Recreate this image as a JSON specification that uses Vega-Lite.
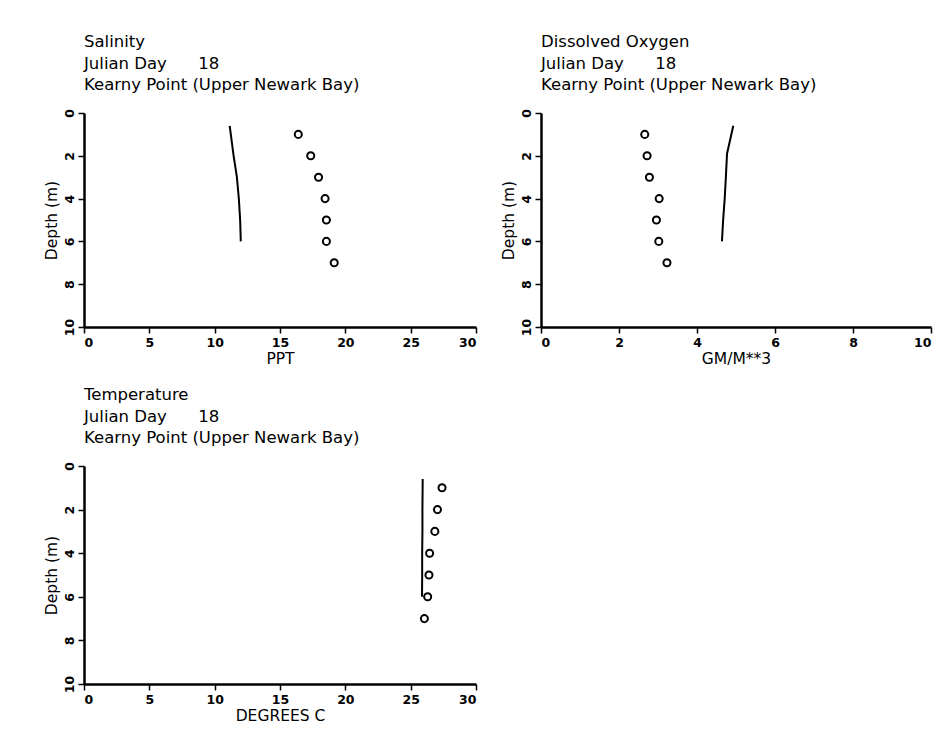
{
  "$schema": "https://vega.github.io/schema/vega-lite/v6.json",
  "background": "white",
  "padding": {"left": 44, "top": 34, "right": 5, "bottom": 5},
  "config": {
    "font": "DejaVu Sans",
    "view": {"stroke": null},
    "axis": {
      "domainColor": "black", "domainWidth": 2.5,
      "tickColor": "black", "tickWidth": 1.5, "tickSize": 6,
      "labelColor": "black", "labelFontSize": 12.5, "labelFontWeight": "bold", "labelPadding": 2,
      "titleColor": "black", "titleFontSize": 15.5, "titleFontWeight": "normal",
      "grid": false
    },
    "axisX": {"labelPadding": 3},
    "title": {"anchor": "start", "frame": "group", "fontSize": 16.5, "fontWeight": "normal", "lineHeight": 21.5, "color": "black", "offset": 15}
  },
  "datasets": {
    "salinity": [
      {"series": "observed", "depth": 1, "value": 16.4},
      {"series": "observed", "depth": 2, "value": 17.35},
      {"series": "observed", "depth": 3, "value": 17.95},
      {"series": "observed", "depth": 4, "value": 18.45},
      {"series": "observed", "depth": 5, "value": 18.55},
      {"series": "observed", "depth": 6, "value": 18.55},
      {"series": "observed", "depth": 7, "value": 19.15},
      {"series": "model", "depth": 0.6, "value": 11.15},
      {"series": "model", "depth": 2, "value": 11.45},
      {"series": "model", "depth": 3, "value": 11.7},
      {"series": "model", "depth": 4, "value": 11.85},
      {"series": "model", "depth": 5, "value": 11.95},
      {"series": "model", "depth": 6, "value": 12.0}
    ],
    "oxygen": [
      {"series": "observed", "depth": 1, "value": 2.66},
      {"series": "observed", "depth": 2, "value": 2.72},
      {"series": "observed", "depth": 3, "value": 2.78},
      {"series": "observed", "depth": 4, "value": 3.03},
      {"series": "observed", "depth": 5, "value": 2.96},
      {"series": "observed", "depth": 6, "value": 3.02},
      {"series": "observed", "depth": 7, "value": 3.23},
      {"series": "model", "depth": 0.6, "value": 4.93},
      {"series": "model", "depth": 1.9, "value": 4.77},
      {"series": "model", "depth": 3, "value": 4.74},
      {"series": "model", "depth": 4, "value": 4.71},
      {"series": "model", "depth": 5, "value": 4.67},
      {"series": "model", "depth": 6, "value": 4.64}
    ],
    "temperature": [
      {"series": "observed", "depth": 1, "value": 27.4},
      {"series": "observed", "depth": 2, "value": 27.05},
      {"series": "observed", "depth": 3, "value": 26.85},
      {"series": "observed", "depth": 4, "value": 26.45},
      {"series": "observed", "depth": 5, "value": 26.4},
      {"series": "observed", "depth": 6, "value": 26.3},
      {"series": "observed", "depth": 7, "value": 26.05},
      {"series": "model", "depth": 0.6, "value": 25.92},
      {"series": "model", "depth": 2, "value": 25.9},
      {"series": "model", "depth": 3, "value": 25.9},
      {"series": "model", "depth": 4, "value": 25.88},
      {"series": "model", "depth": 5, "value": 25.88},
      {"series": "model", "depth": 6, "value": 25.87}
    ]
  },
  "columns": 2,
  "spacing": {"column": 24, "row": 20},
  "concat": [
    {
      "width": 392, "height": 214,
      "title": {"text": ["Salinity", "Julian Day\u00a0\u00a0\u00a0\u00a0\u00a0\u00a018", "Kearny Point (Upper Newark Bay)"]},
      "data": {"name": "salinity"},
      "encoding": {
        "x": {"field": "value", "type": "quantitative", "scale": {"domain": [0, 30], "nice": false, "zero": false}, "axis": {"title": "PPT", "values": [0, 5, 10, 15, 20, 25, 30], "labelAngle": 0, "titlePadding": 3}},
        "y": {"field": "depth", "type": "quantitative", "scale": {"domain": [0, 10], "reverse": true, "nice": false}, "axis": {"title": "Depth (m)", "values": [0, 2, 4, 6, 8, 10], "labelAngle": -90, "titlePadding": 4}}
      },
      "layer": [
        {"transform": [{"filter": "datum.series === 'observed'"}], "mark": {"type": "point", "shape": "circle", "filled": false, "color": "black", "size": 50, "strokeWidth": 2, "opacity": 1}},
        {"transform": [{"filter": "datum.series === 'model'"}], "mark": {"type": "line", "color": "black", "strokeWidth": 2}, "encoding": {"order": {"field": "depth", "type": "quantitative"}}}
      ]
    },
    {
      "width": 390, "height": 214,
      "title": {"text": ["Dissolved Oxygen", "Julian Day\u00a0\u00a0\u00a0\u00a0\u00a0\u00a018", "Kearny Point (Upper Newark Bay)"]},
      "data": {"name": "oxygen"},
      "encoding": {
        "x": {"field": "value", "type": "quantitative", "scale": {"domain": [0, 10], "nice": false, "zero": false}, "axis": {"title": "GM/M**3", "values": [0, 2, 4, 6, 8, 10], "labelAngle": 0, "titlePadding": 3}},
        "y": {"field": "depth", "type": "quantitative", "scale": {"domain": [0, 10], "reverse": true, "nice": false}, "axis": {"title": "Depth (m)", "values": [0, 2, 4, 6, 8, 10], "labelAngle": -90, "titlePadding": 4}}
      },
      "layer": [
        {"transform": [{"filter": "datum.series === 'observed'"}], "mark": {"type": "point", "shape": "circle", "filled": false, "color": "black", "size": 50, "strokeWidth": 2, "opacity": 1}},
        {"transform": [{"filter": "datum.series === 'model'"}], "mark": {"type": "line", "color": "black", "strokeWidth": 2}, "encoding": {"order": {"field": "depth", "type": "quantitative"}}}
      ]
    },
    {
      "width": 392, "height": 218,
      "title": {"text": ["Temperature", "Julian Day\u00a0\u00a0\u00a0\u00a0\u00a0\u00a018", "Kearny Point (Upper Newark Bay)"]},
      "data": {"name": "temperature"},
      "encoding": {
        "x": {"field": "value", "type": "quantitative", "scale": {"domain": [0, 30], "nice": false, "zero": false}, "axis": {"title": "DEGREES C", "values": [0, 5, 10, 15, 20, 25, 30], "labelAngle": 0, "titlePadding": 3}},
        "y": {"field": "depth", "type": "quantitative", "scale": {"domain": [0, 10], "reverse": true, "nice": false}, "axis": {"title": "Depth (m)", "values": [0, 2, 4, 6, 8, 10], "labelAngle": -90, "titlePadding": 4}}
      },
      "layer": [
        {"transform": [{"filter": "datum.series === 'observed'"}], "mark": {"type": "point", "shape": "circle", "filled": false, "color": "black", "size": 50, "strokeWidth": 2, "opacity": 1}},
        {"transform": [{"filter": "datum.series === 'model'"}], "mark": {"type": "line", "color": "black", "strokeWidth": 2}, "encoding": {"order": {"field": "depth", "type": "quantitative"}}}
      ]
    }
  ]
}
